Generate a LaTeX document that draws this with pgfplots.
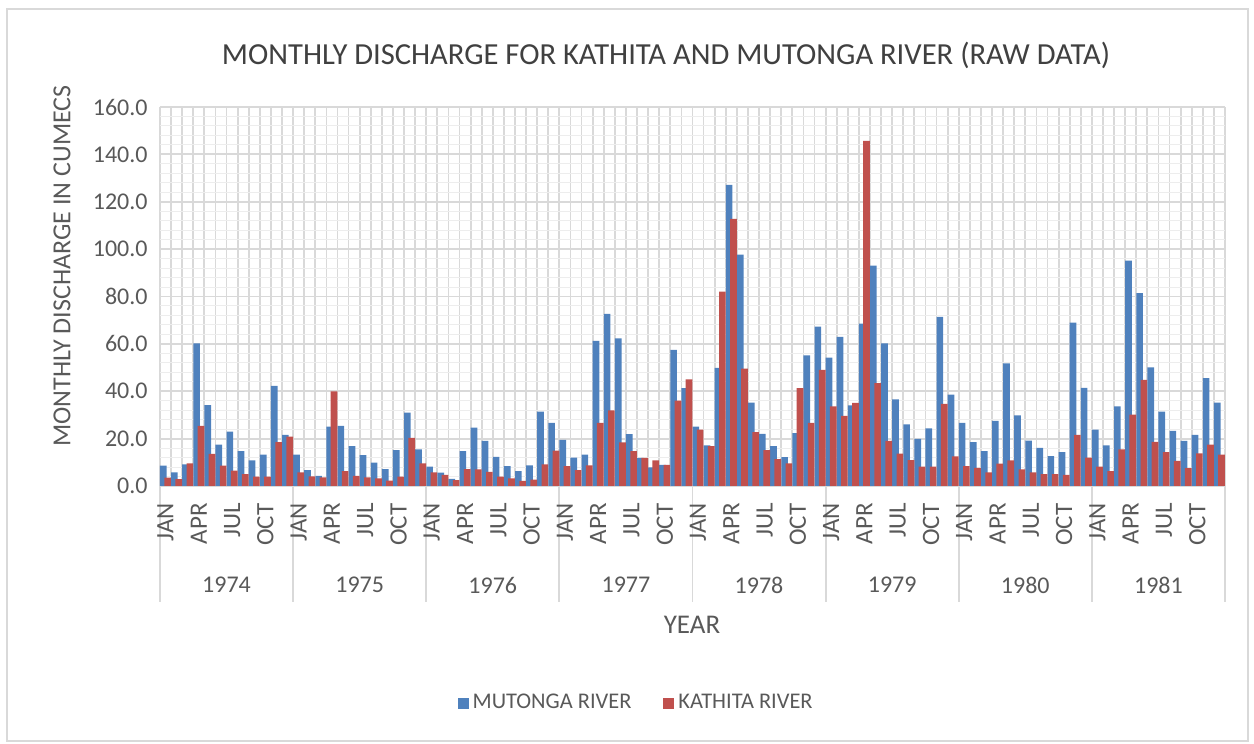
\documentclass[border=0pt]{standalone}
\usepackage{pgfplots}
\pgfplotsset{compat=1.18}
\usepackage{pgfplotstable}
\usepackage{fontspec}
\setmainfont{Carlito}
\definecolor{mblue}{HTML}{4F81BD}
\definecolor{kred}{HTML}{C0504D}
\definecolor{txt}{HTML}{404040}
\definecolor{tick}{HTML}{595959}
\definecolor{grd}{HTML}{D9D9D9}
\definecolor{grdm}{HTML}{EDEDED}

\pgfplotstableread{
i m k
0 8.6 3.5
1 5.8 2.9
2 9.1 9.6
3 60.2 25.4
4 34.1 13.6
5 17.5 8.6
6 23.0 6.5
7 14.7 5.0
8 10.8 4.0
9 13.2 4.0
10 42.3 18.5
11 21.6 20.8
12 13.2 5.8
13 6.7 4.1
14 4.3 3.6
15 25.1 39.9
16 25.4 6.3
17 16.8 4.3
18 13.0 3.6
19 9.9 3.2
20 7.1 2.3
21 15.1 4.0
22 31.0 20.3
23 15.5 9.5
24 8.2 5.8
25 5.6 4.7
26 3.0 2.5
27 14.7 7.1
28 24.6 7.0
29 19.1 6.0
30 12.3 4.0
31 8.4 3.2
32 6.3 2.2
33 8.7 2.7
34 31.4 9.1
35 26.7 14.9
36 19.5 8.4
37 12.0 6.7
38 13.2 8.7
39 61.3 26.7
40 72.7 31.9
41 62.3 18.4
42 21.9 14.7
43 11.9 11.9
44 7.9 10.8
45 8.9 8.9
46 57.5 36.0
47 41.3 45.0
48 25.1 23.8
49 17.1 16.8
50 49.9 82.1
51 127.1 112.8
52 97.7 49.5
53 35.2 22.7
54 22.0 15.1
55 16.8 11.3
56 12.2 9.5
57 22.3 41.3
58 55.1 26.7
59 67.3 49.0
60 54.2 33.6
61 63.0 29.6
62 34.0 35.1
63 68.5 145.7
64 93.0 43.4
65 60.2 19.1
66 36.6 13.7
67 26.0 10.9
68 19.9 8.2
69 24.3 8.2
70 71.4 34.7
71 38.6 12.5
72 26.7 8.4
73 18.5 7.6
74 14.7 5.8
75 27.5 9.4
76 51.8 10.8
77 29.8 7.0
78 19.2 5.8
79 16.1 5.0
80 12.6 5.0
81 14.3 4.7
82 69.0 21.6
83 41.4 12.0
84 23.8 8.2
85 17.1 6.3
86 33.6 15.5
87 95.1 30.1
88 81.4 44.8
89 50.1 18.6
90 31.4 14.3
91 23.3 10.6
92 19.1 7.5
93 21.6 13.8
94 45.5 17.5
95 35.2 13.2
}\data

\begin{document}
\begin{tikzpicture}
\path[use as bounding box] (-80pt,243pt) rectangle (547pt,-129pt);
\draw[grd, line width=0.6pt] (-76.5pt,238.5pt) rectangle (544pt,-127.5pt);
\foreach \j in {0,...,8}{
  \draw[grd, line width=0.9pt] (66.5625pt*\j,0pt) -- (66.5625pt*\j,-58pt);
}
\begin{axis}[
  at={(0pt,0pt)}, anchor=south west,
  scale only axis, width=532.5pt, height=189.5pt,
  xmin=-0.5, xmax=95.5, ymin=0, ymax=160,
  clip=false,
  axis line style={draw=none},
  major tick length=0pt, minor tick length=0pt,
  xtick={0,3,...,93},
  xticklabels={JAN,APR,JUL,OCT,JAN,APR,JUL,OCT,JAN,APR,JUL,OCT,JAN,APR,JUL,OCT,JAN,APR,JUL,OCT,JAN,APR,JUL,OCT,JAN,APR,JUL,OCT,JAN,APR,JUL,OCT},
  minor xtick={-0.5,0.5,...,95.5},
  xminorgrids=true, xmajorgrids=false,
  ytick={0,20,...,160},
  minor y tick num=4,
  ymajorgrids=true, yminorgrids=true,
  major grid style={grd, line width=0.9pt},
  minor x grid style={grd, line width=0.9pt},
  minor y grid style={grdm, line width=0.5pt},
  yticklabel style={font=\fontsize{12}{14}\selectfont, text=tick, inner sep=0pt, anchor=east},
  yticklabel shift=6pt,
  y tick label style={/pgf/number format/.cd, fixed, fixed zerofill, precision=1, assume math mode=true},
  xticklabel style={font=\fontsize{12.5}{14}\selectfont, text=tick, rotate=90, anchor=east, inner sep=0pt},
  xticklabel shift=8.5pt,
  legend style={at={(0.448,-0.5726)}, anchor=center, draw=none, fill=none,
    legend columns=2, font=\fontsize{11.2}{13}\selectfont, text=tick,
    /tikz/every even column/.append style={column sep=14pt}},
]
\addplot[ybar, bar width=0.6, bar shift=-0.2, fill=mblue, draw=none,
  legend image code/.code={\fill[mblue] (0pt,-2.75pt) rectangle (5.5pt,2.75pt);}]
  table[x=i, y=m]{\data};
\addlegendentry{MUTONGA RIVER}
\addplot[ybar, bar width=0.6, bar shift=0.19, fill=kred, draw=none,
  legend image code/.code={\fill[kred] (0pt,-2.75pt) rectangle (5.5pt,2.75pt);}]
  table[x=i, y=k]{\data};
\addlegendentry{KATHITA RIVER}
\node[font=\fontsize{12}{14}\selectfont, text=tick] at (axis cs:5.5,0) [yshift=-49.5pt] {1974};
\node[font=\fontsize{12}{14}\selectfont, text=tick] at (axis cs:17.5,0) [yshift=-49.5pt] {1975};
\node[font=\fontsize{12}{14}\selectfont, text=tick] at (axis cs:29.5,0) [yshift=-49.5pt] {1976};
\node[font=\fontsize{12}{14}\selectfont, text=tick] at (axis cs:41.5,0) [yshift=-49.5pt] {1977};
\node[font=\fontsize{12}{14}\selectfont, text=tick] at (axis cs:53.5,0) [yshift=-49.5pt] {1978};
\node[font=\fontsize{12}{14}\selectfont, text=tick] at (axis cs:65.5,0) [yshift=-49.5pt] {1979};
\node[font=\fontsize{12}{14}\selectfont, text=tick] at (axis cs:77.5,0) [yshift=-49.5pt] {1980};
\node[font=\fontsize{12}{14}\selectfont, text=tick] at (axis cs:89.5,0) [yshift=-49.5pt] {1981};
\end{axis}
\node[font=\fontsize{15.3}{18}\selectfont, text=txt] at (253pt,215.5pt) {MONTHLY DISCHARGE FOR KATHITA AND MUTONGA RIVER (RAW DATA)};
\node[font=\fontsize{13}{15}\selectfont, text=tick, rotate=90] at (-49pt,110pt) {MONTHLY DISCHARGE IN CUMECS};
\node[font=\fontsize{13.5}{16}\selectfont, text=tick] at (266pt,-69.5pt) {YEAR};
\end{tikzpicture}
\end{document}
